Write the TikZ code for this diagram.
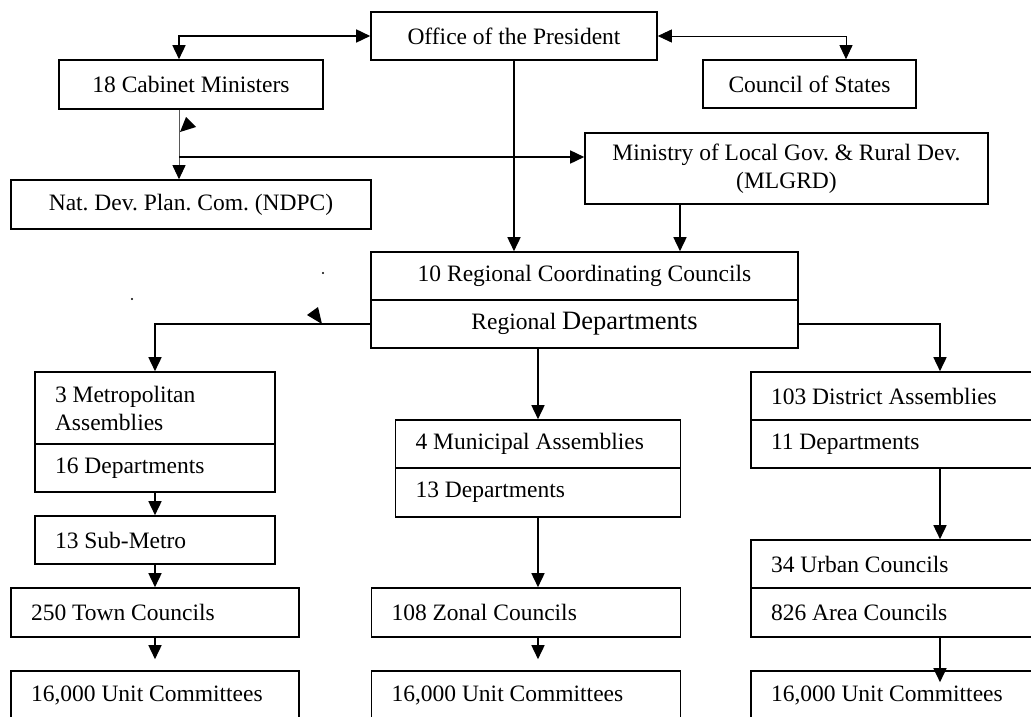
\documentclass[tikz,border=0pt]{standalone}
\usepackage{fontspec}
\setmainfont{Liberation Serif}
\usetikzlibrary{arrows.meta}
\newcommand\dfont{\fontsize{23.5}{28}\selectfont\frenchspacing}
\tikzset{
  box/.style={draw, line width=1.6pt, rectangle, inner sep=0pt, align=center, font=\dfont},
  lbox/.style={draw, line width=1.6pt, rectangle, inner xsep=20pt, inner ysep=0pt, align=flush left, font=\dfont},
  conn/.style={line width=1.6pt, -{Triangle[length=14pt,width=13pt]}},
  thin/.style={line width=0.9pt},
  tri/.style={fill=black},
}
\begin{document}
\begin{tikzpicture}[x=1pt,y=-1pt]
\useasboundingbox (0,0) rectangle (1031,717);
\clip (0,0) rectangle (1031,717);
% top level
\node[box, minimum width=286pt, minimum height=48pt] (office) at (514,36) {Office of the President};
\node[box, minimum width=264pt, minimum height=49pt] (cabinet) at (191,84.5) {18 Cabinet Ministers};
\node[box, minimum width=213pt, minimum height=48pt] (council) at (809.5,84) {Council of States};
\node[box, minimum width=360pt, minimum height=49pt] (ndpc) at (191,204.5) {Nat. Dev. Plan. Com. (NDPC)};
\node[box, minimum width=403pt, minimum height=71pt] (mlgrd) at (786.5,168.5) {Ministry of Local Gov. \& Rural Dev.\\(MLGRD)};
\node[box, minimum width=427pt, minimum height=48pt] (rcc) at (584.5,276) {10 Regional Coordinating Councils};
\node[box, minimum width=427pt, minimum height=48pt] (rdep) at (584.5,324) {Regional {\fontsize{26.5}{28}\selectfont Departments}};
% left column
\node[lbox, text width=200pt, minimum height=72pt] (metro) at (155,408) {3 Metropolitan\\Assemblies};
\node[lbox, text width=200pt, minimum height=48pt] (metrodep) at (155,468) {16 Departments};
\node[lbox, text width=200pt, minimum height=48pt] (sub) at (155,540) {13 Sub-Metro};
\node[lbox, text width=248pt, minimum height=49pt] (town) at (155,612.5) {250 Town Councils};
\node[lbox, text width=248pt, minimum height=49pt] (unitA) at (155,695.5) {16,000 Unit Committees};
% middle column
\node[lbox, text width=245pt, minimum height=48pt] (mun) at (538,444) {4 Municipal Assemblies};
\node[lbox, text width=245pt, minimum height=49pt] (mundep) at (538,492.5) {13 Departments};
\node[lbox, text width=269pt, minimum height=49pt] (zonal) at (526,612.5) {108 Zonal Councils};
\node[lbox, text width=269pt, minimum height=49pt] (unitB) at (526,695.5) {16,000 Unit Committees};
% right column
\node[lbox, text width=249pt, minimum height=48pt] (dist) at (895.5,396) {103 District Assemblies};
\node[lbox, text width=249pt, minimum height=48pt] (distdep) at (895.5,444) {11 Departments};
\node[lbox, text width=249pt, minimum height=48pt] (urban) at (895.5,564) {34 Urban Councils};
\node[lbox, text width=249pt, minimum height=49pt] (area) at (895.5,612.5) {826 Area Councils};
\node[lbox, text width=249pt, minimum height=49pt] (unitC) at (895.5,695.5) {16,000 Unit Committees};
% connectors top
\draw[line width=1.6pt, {Triangle[length=14pt,width=13pt]}-{Triangle[length=14pt,width=13pt]}]
  ([xshift=-12pt]cabinet.north) |- (office.west);
\draw[thin, {Triangle[length=14pt,width=13pt]}-{Triangle[length=14pt,width=13pt]}]
  (office.east) -| ([xshift=36.5pt]council.north);
\draw[thin, draw=black!65, -{Triangle[length=14pt,width=13pt,color=black]}]
  ([xshift=-12pt]cabinet.south) -- ([xshift=-12pt]ndpc.north);
\coordinate (j1) at (179,157);
\draw[conn] (j1) -- ([yshift=11.5pt]mlgrd.west);
\draw[conn] (office.south) -- (office.south |- rcc.north);
\draw[conn] ([xshift=-106.5pt]mlgrd.south) coordinate (m1) -- (m1 |- rcc.north);
% branches
\draw[conn] (rdep.west) -| (metro.north);
\draw[conn] (rdep.east) -| ([xshift=44.5pt]dist.north);
\draw[conn] ([xshift=-46.5pt]rdep.south) coordinate (m2) -- (m2 |- mun.north);
% left column
\draw[conn] (metrodep.south) -- (sub.north);
\draw[conn] (sub.south) -- (town.north);
\draw[conn, shorten >=11pt] (town.south) -- (unitA.north);
% middle column
\draw[conn] (mundep.south) coordinate (m3) -- (m3 |- zonal.north);
\draw[conn, shorten >=11pt] (m3 |- zonal.south) -- (m3 |- unitB.north);
% right column
\draw[conn] ([xshift=44.5pt]distdep.south) -- ([xshift=44.5pt]urban.north);
\draw[conn, shorten >=-12pt] ([xshift=44.5pt]area.south) -- ([xshift=44.5pt]unitC.north);
% stray marks
\fill[tri] (180,132) -- (186,117) -- (196,127) -- cycle;
\fill[tri] (307,315) -- (318,307) -- (322,324) -- cycle;
\fill (323,273) circle (1.1);
\fill (132,299) circle (1.1);
\end{tikzpicture}
\end{document}
